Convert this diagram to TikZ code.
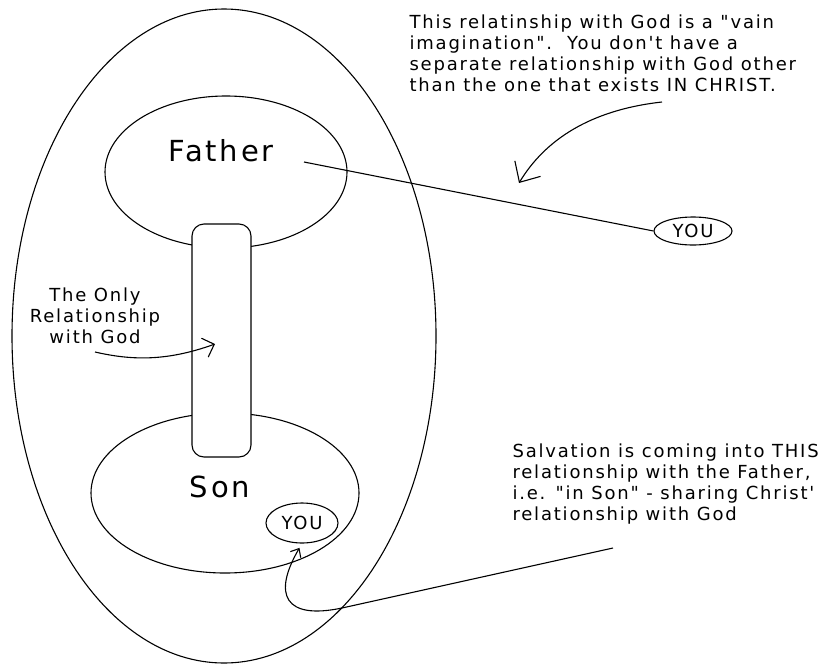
\documentclass[tikz,border=0pt]{standalone}
\usepackage{fontspec}
\newfontfamily\notefont{DejaVu Sans}[LetterSpace=10]
\usetikzlibrary{shapes.geometric,arrows.meta}

\begin{document}
\begin{tikzpicture}[x=1pt, y=-1pt, line width=1.1pt,
        oval/.style={draw, ellipse, inner sep=0pt},
        notetext/.style={inner sep=0pt, font=\notefont\fontsize{18}{21}\selectfont},
        bigname/.style={inner sep=0pt, font=\notefont\fontsize{29}{34}\selectfont}]
    \useasboundingbox (0, 0) rectangle (834, 664);

    % the big oval, Father and Son
    \node [oval, minimum width=424, minimum height=654] (outerOval) at (224, 336) {};
    \node [oval, minimum width=242, minimum height=152] (fatherOval) at (226, 172) {};
    \node [oval, minimum width=268, minimum height=160] (sonOval) at (225, 493) {};
    \node [draw, fill=white, rounded corners=12pt, minimum width=59, minimum height=233] (linkBar) at (221.5, 340.5) {};
    \node [bigname] (fatherName) at (221, 151) {Father};
    \node [bigname] (sonName) at (220, 487) {Son};
    \node [oval, notetext, minimum width=72, minimum height=40] (youIn) at (302, 523) {YOU};
    \node [oval, notetext, minimum width=78, minimum height=28] (youOut) at (693, 231) {YOU};

    % notes
    \node [notetext, anchor=north west, align=left] (vainNote) at (409, 14) {This relatinship with God is a "vain\\imagination".\ \ You don't have a\\separate relationship with God other\\than the one that exists IN CHRIST.};
    \node [notetext, anchor=north, align=center] (onlyNote) at (95, 287) {The Only\\Relationship\\with God};
    \node [notetext, anchor=north west, align=left] (salvationNote) at (512, 443) {Salvation is coming into THIS\\relationship with the Father,\\i.e. "in Son" - sharing Christ'\\relationship with God};

    % connectors
    \coordinate (fatherTail) at (304, 162);
    \draw (fatherTail) -- (youOut.west);

    \coordinate (vainTail) at (662, 102);
    \coordinate (vainTip) at (519, 183);
    \draw [-{Straight Barb[length=16pt, width=30pt]}] (vainTail) .. controls (590, 110) and (545, 140) .. (vainTip);

    \coordinate (onlyTail) at (95, 352);
    \coordinate (onlyTip) at (215, 344);
    \draw [-{Straight Barb[length=10pt, width=20pt]}] (onlyTail) .. controls (130, 360) and (165, 362) .. (onlyTip);

    \coordinate (salvationTail) at (613, 548);
    \coordinate (salvationBend) at (342, 608);
    \draw [-{Straight Barb[length=7pt, width=12pt]}, shorten >=5pt] (salvationTail) -- (salvationBend) .. controls (285, 620) and (272, 595) .. (youIn.south);
\end{tikzpicture}
\end{document}
